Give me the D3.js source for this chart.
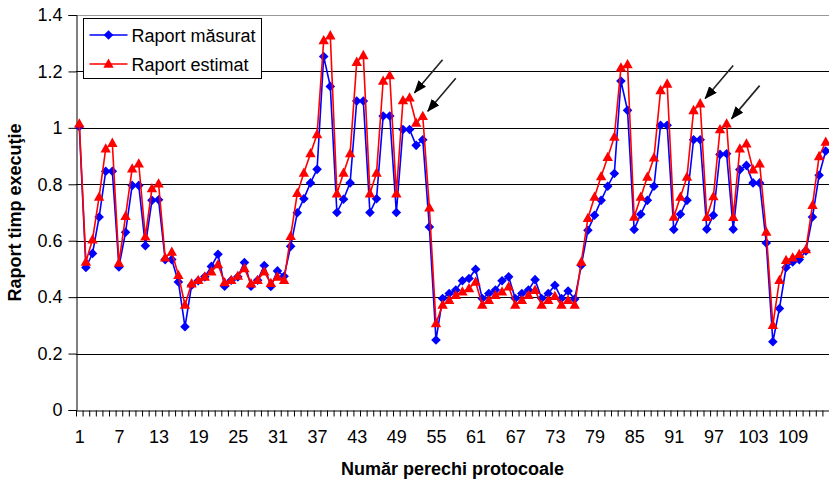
<!DOCTYPE html>
<html>
<head>
<meta charset="utf-8">
<script src="https://cdn.jsdelivr.net/npm/d3@7/dist/d3.min.js"></script>
<style>
  body { margin: 0; background: #fff; }
  svg { display: block; font-family: "Liberation Sans", Arial, sans-serif; }
</style>
</head>
<body>
<script>
// protocol pair index 1..114
var categories = d3.range(1, 115);
var xTickLabels = [1, 7, 13, 19, 25, 31, 37, 43, 49, 55, 61, 67, 73, 79, 85, 91, 97, 103, 109];
var yTicks = [0, 0.2, 0.4, 0.6, 0.8, 1, 1.2, 1.4];

var seriesNames = ["Raport măsurat", "Raport estimat"];

var measured = [
  1.005, 0.505, 0.555, 0.684, 0.846, 0.846, 0.507, 0.630, 0.796, 0.796,
  0.582, 0.743, 0.745, 0.533, 0.533, 0.454, 0.295, 0.442, 0.458, 0.472,
  0.509, 0.552, 0.439, 0.460, 0.472, 0.523, 0.439, 0.460, 0.512, 0.438,
  0.493, 0.474, 0.580, 0.699, 0.749, 0.805, 0.853, 1.253, 1.147, 0.700,
  0.747, 0.805, 1.095, 1.095, 0.700, 0.749, 1.042, 1.042, 0.700, 0.994,
  0.994, 0.938, 0.958, 0.649, 0.248, 0.395, 0.413, 0.425, 0.458, 0.466,
  0.499, 0.395, 0.413, 0.425, 0.458, 0.472, 0.395, 0.413, 0.425, 0.462,
  0.395, 0.413, 0.442, 0.395, 0.422, 0.393, 0.513, 0.637, 0.690, 0.743,
  0.793, 0.838, 1.166, 1.062, 0.640, 0.694, 0.743, 0.793, 1.009, 1.009,
  0.640, 0.694, 0.743, 0.958, 0.958, 0.641, 0.690, 0.906, 0.908, 0.641,
  0.852, 0.867, 0.805, 0.805, 0.592, 0.242, 0.360, 0.505, 0.525, 0.533,
  0.564, 0.684, 0.832, 0.918
];

var estimated = [
  1.015, 0.525, 0.604, 0.755, 0.926, 0.946, 0.521, 0.687, 0.855, 0.873,
  0.614, 0.785, 0.802, 0.540, 0.560, 0.478, 0.372, 0.448, 0.460, 0.472,
  0.490, 0.516, 0.452, 0.460, 0.475, 0.502, 0.448, 0.460, 0.490, 0.449,
  0.472, 0.460, 0.616, 0.768, 0.840, 0.909, 0.977, 1.310, 1.327, 0.767,
  0.840, 0.909, 1.233, 1.257, 0.767, 0.840, 1.166, 1.186, 0.767, 1.097,
  1.107, 1.017, 1.041, 0.717, 0.307, 0.372, 0.389, 0.407, 0.419, 0.431,
  0.454, 0.372, 0.389, 0.407, 0.419, 0.437, 0.372, 0.389, 0.407, 0.425,
  0.372, 0.389, 0.403, 0.372, 0.389, 0.372, 0.525, 0.680, 0.755, 0.828,
  0.896, 0.968, 1.213, 1.225, 0.684, 0.755, 0.826, 0.894, 1.133, 1.156,
  0.684, 0.755, 0.826, 1.062, 1.086, 0.683, 0.757, 0.994, 1.015, 0.683,
  0.926, 0.944, 0.852, 0.873, 0.631, 0.301, 0.460, 0.531, 0.540, 0.552,
  0.569, 0.726, 0.899, 0.950
];

// points of the estimated series that the arrows point at
var arrowTargets = [51, 53, 95, 99];

var margin = {top: 15, right: 0, bottom: 70, left: 76},
    width = 829 - margin.left - margin.right,
    height = 480 - margin.top - margin.bottom;

var x = d3.scaleLinear()
    .domain([0.5, categories.length + 0.5])
    .range([0, width]);

var y = d3.scaleLinear()
    .domain([0, 1.4])
    .range([height, 0]);

var svg = d3.select("body").append("svg")
    .attr("width", width + margin.left + margin.right)
    .attr("height", height + margin.top + margin.bottom)
    .append("g")
    .attr("transform", "translate(" + margin.left + "," + margin.top + ")");

var defs = d3.select("svg").append("defs");
defs.append("marker")
    .attr("id", "head")
    .attr("markerUnits", "userSpaceOnUse")
    .attr("viewBox", "0 0 13 10")
    .attr("refX", 12)
    .attr("refY", 5)
    .attr("markerWidth", 13)
    .attr("markerHeight", 10)
    .attr("orient", "auto")
    .append("path")
    .attr("d", "M0,0L13,5L0,10Z")
    .attr("fill", "#000");

// grid lines
svg.append("g")
    .selectAll("line")
    .data(yTicks.filter(function(d) { return d > 0 && d < 1.4; }))
    .enter().append("line")
    .attr("x1", 0)
    .attr("x2", width)
    .attr("y1", function(d) { return Math.round(y(d)) + 0.5; })
    .attr("y2", function(d) { return Math.round(y(d)) + 0.5; })
    .attr("stroke", "#000")
    .attr("stroke-width", 1);

// plot border top
svg.append("line")
    .attr("x1", 0).attr("x2", width)
    .attr("y1", 0.5).attr("y2", 0.5)
    .attr("stroke", "#999");

// y axis
var yAxis = svg.append("g")
    .attr("transform", "translate(0.5,0)")
    .call(d3.axisLeft(y)
        .tickValues(yTicks)
        .tickSize(8)
        .tickPadding(6)
        .tickFormat(function(d) { return String(d); }));
yAxis.selectAll("text").attr("font-size", 18).attr("fill", "#000").attr("font-family", null);
yAxis.select(".domain").attr("stroke", "#000");

// x axis: small ticks between every category, labels every 6th
var xMinor = svg.append("g")
    .attr("transform", "translate(0," + (height + 0.5) + ")")
    .call(d3.axisBottom(x)
        .tickValues(d3.range(0.5, categories.length + 1, 1))
        .tickSize(6)
        .tickSizeOuter(0)
        .tickFormat(""));
xMinor.selectAll("line").attr("stroke", "#000");
xMinor.select(".domain").attr("stroke", "#000");

var xLabels = svg.append("g")
    .attr("transform", "translate(0," + height + ")")
    .call(d3.axisBottom(x)
        .tickValues(xTickLabels)
        .tickSize(0)
        .tickPadding(20));
xLabels.select(".domain").remove();
xLabels.selectAll("text").attr("font-size", 18).attr("fill", "#000").attr("font-family", null);

// axis titles
svg.append("text")
    .attr("x", width / 2)
    .attr("y", height + 64.5)
    .attr("text-anchor", "middle")
    .attr("font-size", 18)
    .attr("font-weight", "bold")
    .text("Număr perechi protocoale");

svg.append("text")
    .attr("transform", "translate(" + (21 - margin.left) + "," + (height / 2) + ") rotate(-90)")
    .attr("text-anchor", "middle")
    .attr("font-size", 18)
    .attr("font-weight", "bold")
    .text("Raport timp execuţie");

var diamond = "M0,-4.8L4.8,0L0,4.8L-4.8,0Z";
var triangle = "M0,-5.5L5.2,3.8L-5.2,3.8Z";

var series = [
  {name: seriesNames[0], values: measured, color: "#0000ff", shape: diamond},
  {name: seriesNames[1], values: estimated, color: "#ff0000", shape: triangle}
];

var line = d3.line()
    .x(function(d, i) { return x(categories[i]); })
    .y(function(d) { return y(d); });

series.forEach(function(s) {
  var g = svg.append("g");
  g.append("path")
      .attr("d", line(s.values))
      .attr("fill", "none")
      .attr("stroke", s.color)
      .attr("stroke-width", 1.6);
  g.selectAll("path.pt")
      .data(s.values)
      .enter().append("path")
      .attr("class", "pt")
      .attr("d", s.shape)
      .attr("fill", s.color)
      .attr("transform", function(d, i) {
        return "translate(" + x(categories[i]) + "," + y(d) + ")";
      });
});

// arrows
svg.append("g")
    .selectAll("line")
    .data(arrowTargets)
    .enter().append("line")
    .attr("x1", function(d) { return x(d) + 33; })
    .attr("y1", function(d) { return y(estimated[d - 1]) - 38; })
    .attr("x2", function(d) { return x(d) + 5; })
    .attr("y2", function(d) { return y(estimated[d - 1]) - 5; })
    .attr("stroke", "#222")
    .attr("stroke-width", 1.6)
    .attr("marker-end", "url(#head)");

// legend
var legend = svg.append("g")
    .attr("transform", "translate(" + (83.5 - margin.left) + "," + (18.5 - margin.top) + ")");
legend.append("rect")
    .attr("width", 178)
    .attr("height", 60)
    .attr("fill", "#fff")
    .attr("stroke", "#000");
series.forEach(function(s, i) {
  var ly = 16.5 + i * 29;
  legend.append("line")
      .attr("x1", 6).attr("x2", 44)
      .attr("y1", ly).attr("y2", ly)
      .attr("stroke", s.color)
      .attr("stroke-width", 1.6);
  legend.append("path")
      .attr("d", s.shape)
      .attr("fill", s.color)
      .attr("transform", "translate(25," + ly + ")");
  legend.append("text")
      .attr("x", 48)
      .attr("y", ly + 6.5)
      .attr("font-size", 18)
      .text(s.name);
});
</script>
</body>
</html>
